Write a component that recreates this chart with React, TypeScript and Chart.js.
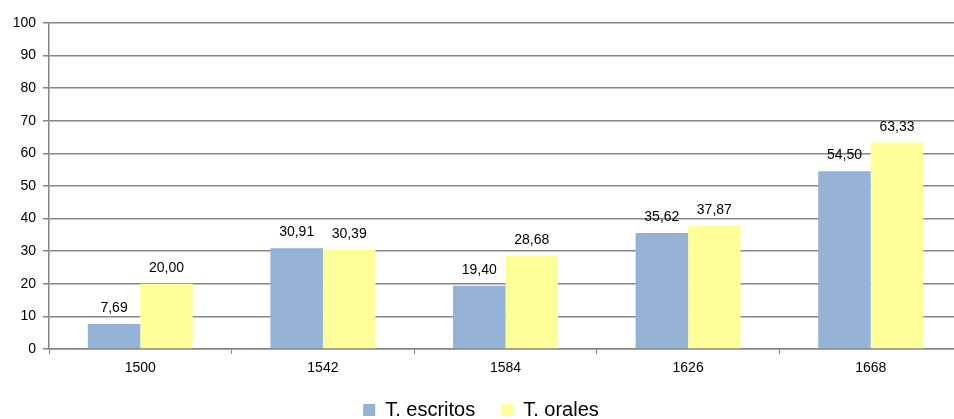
import React, { useEffect, useRef } from "react";
import { Chart, registerables } from "chart.js";

Chart.register(...registerables);

const years = ["1500", "1542", "1584", "1626", "1668"];
const escritos = [7.69, 30.91, 19.4, 35.62, 54.5];
const orales = [20.0, 30.39, 28.68, 37.87, 63.33];
const seriesNames = ["T. escritos", "T. orales"];

const FONT = "'Liberation Sans', Arial, sans-serif";
const AXIS_GRAY = "#868686";

const fmt = (v: number) => v.toFixed(2).replace(".", ",");

// Writes each bar's value just above it, with a decimal comma.
const valueLabels = {
  id: "valueLabels",
  afterDatasetsDraw(chart: any) {
    const ctx = chart.ctx;
    ctx.save();
    ctx.font = `14px ${FONT}`;
    ctx.fillStyle = "#000";
    ctx.textAlign = "center";
    ctx.textBaseline = "alphabetic";
    chart.data.datasets.forEach((ds: any, i: number) => {
      const meta = chart.getDatasetMeta(i);
      meta.data.forEach((bar: any, j: number) => {
        ctx.fillText(fmt(ds.data[j]), bar.x, bar.y - 12);
      });
    });
    ctx.restore();
  },
};

export default function App() {
  const ref = useRef<HTMLCanvasElement | null>(null);

  useEffect(() => {
    if (!ref.current) return;
    const chart = new Chart(ref.current, {
      type: "bar",
      data: {
        labels: years,
        datasets: [
          {
            label: seriesNames[0],
            data: escritos,
            backgroundColor: "#95B3D7",
            borderWidth: 0,
          },
          {
            label: seriesNames[1],
            data: orales,
            backgroundColor: "#FFFF99",
            borderWidth: 0,
          },
        ],
      },
      options: {
        responsive: false,
        animation: false,
        devicePixelRatio: 1,
        layout: { padding: { top: 23, left: 0, right: 2, bottom: -11 } },
        datasets: {
          bar: { categoryPercentage: 0.575, barPercentage: 1 },
        },
        scales: {
          x: {
            offset: true,
            afterFit(scale: any) {
              scale.height = 25;
            },
            grid: {
              offset: true,
              drawOnChartArea: false,
              drawTicks: true,
              tickLength: 5,
              color: AXIS_GRAY,
              lineWidth: 1,
            },
            border: { color: AXIS_GRAY, width: 1.5 },
            ticks: {
              color: "#000",
              font: { family: FONT, size: 14 },
              padding: 6,
              maxRotation: 0,
            },
          },
          y: {
            min: 0,
            max: 100,
            afterFit(scale: any) {
              scale.width = 49;
            },
            grid: {
              color: AXIS_GRAY,
              lineWidth: 1.5,
              tickLength: 6,
            },
            border: { color: AXIS_GRAY, width: 1.5 },
            ticks: {
              stepSize: 10,
              color: "#000",
              font: { family: FONT, size: 14 },
              padding: 7,
            },
          },
        },
        plugins: {
          legend: {
            position: "bottom",
            labels: {
              boxWidth: 12,
              boxHeight: 12,
              color: "#000",
              font: { family: FONT, size: 20 },
              padding: 26,
            },
          },
          tooltip: { enabled: false },
        },
      },
      plugins: [valueLabels],
    });
    return () => chart.destroy();
  }, []);

  return (
    <div
      style={{
        position: "fixed",
        left: 0,
        top: 0,
        width: 954,
        height: 419,
        overflow: "hidden",
        background: "#fff",
      }}
    >
      <canvas ref={ref} width={964} height={419} style={{ display: "block" }} />
    </div>
  );
}
